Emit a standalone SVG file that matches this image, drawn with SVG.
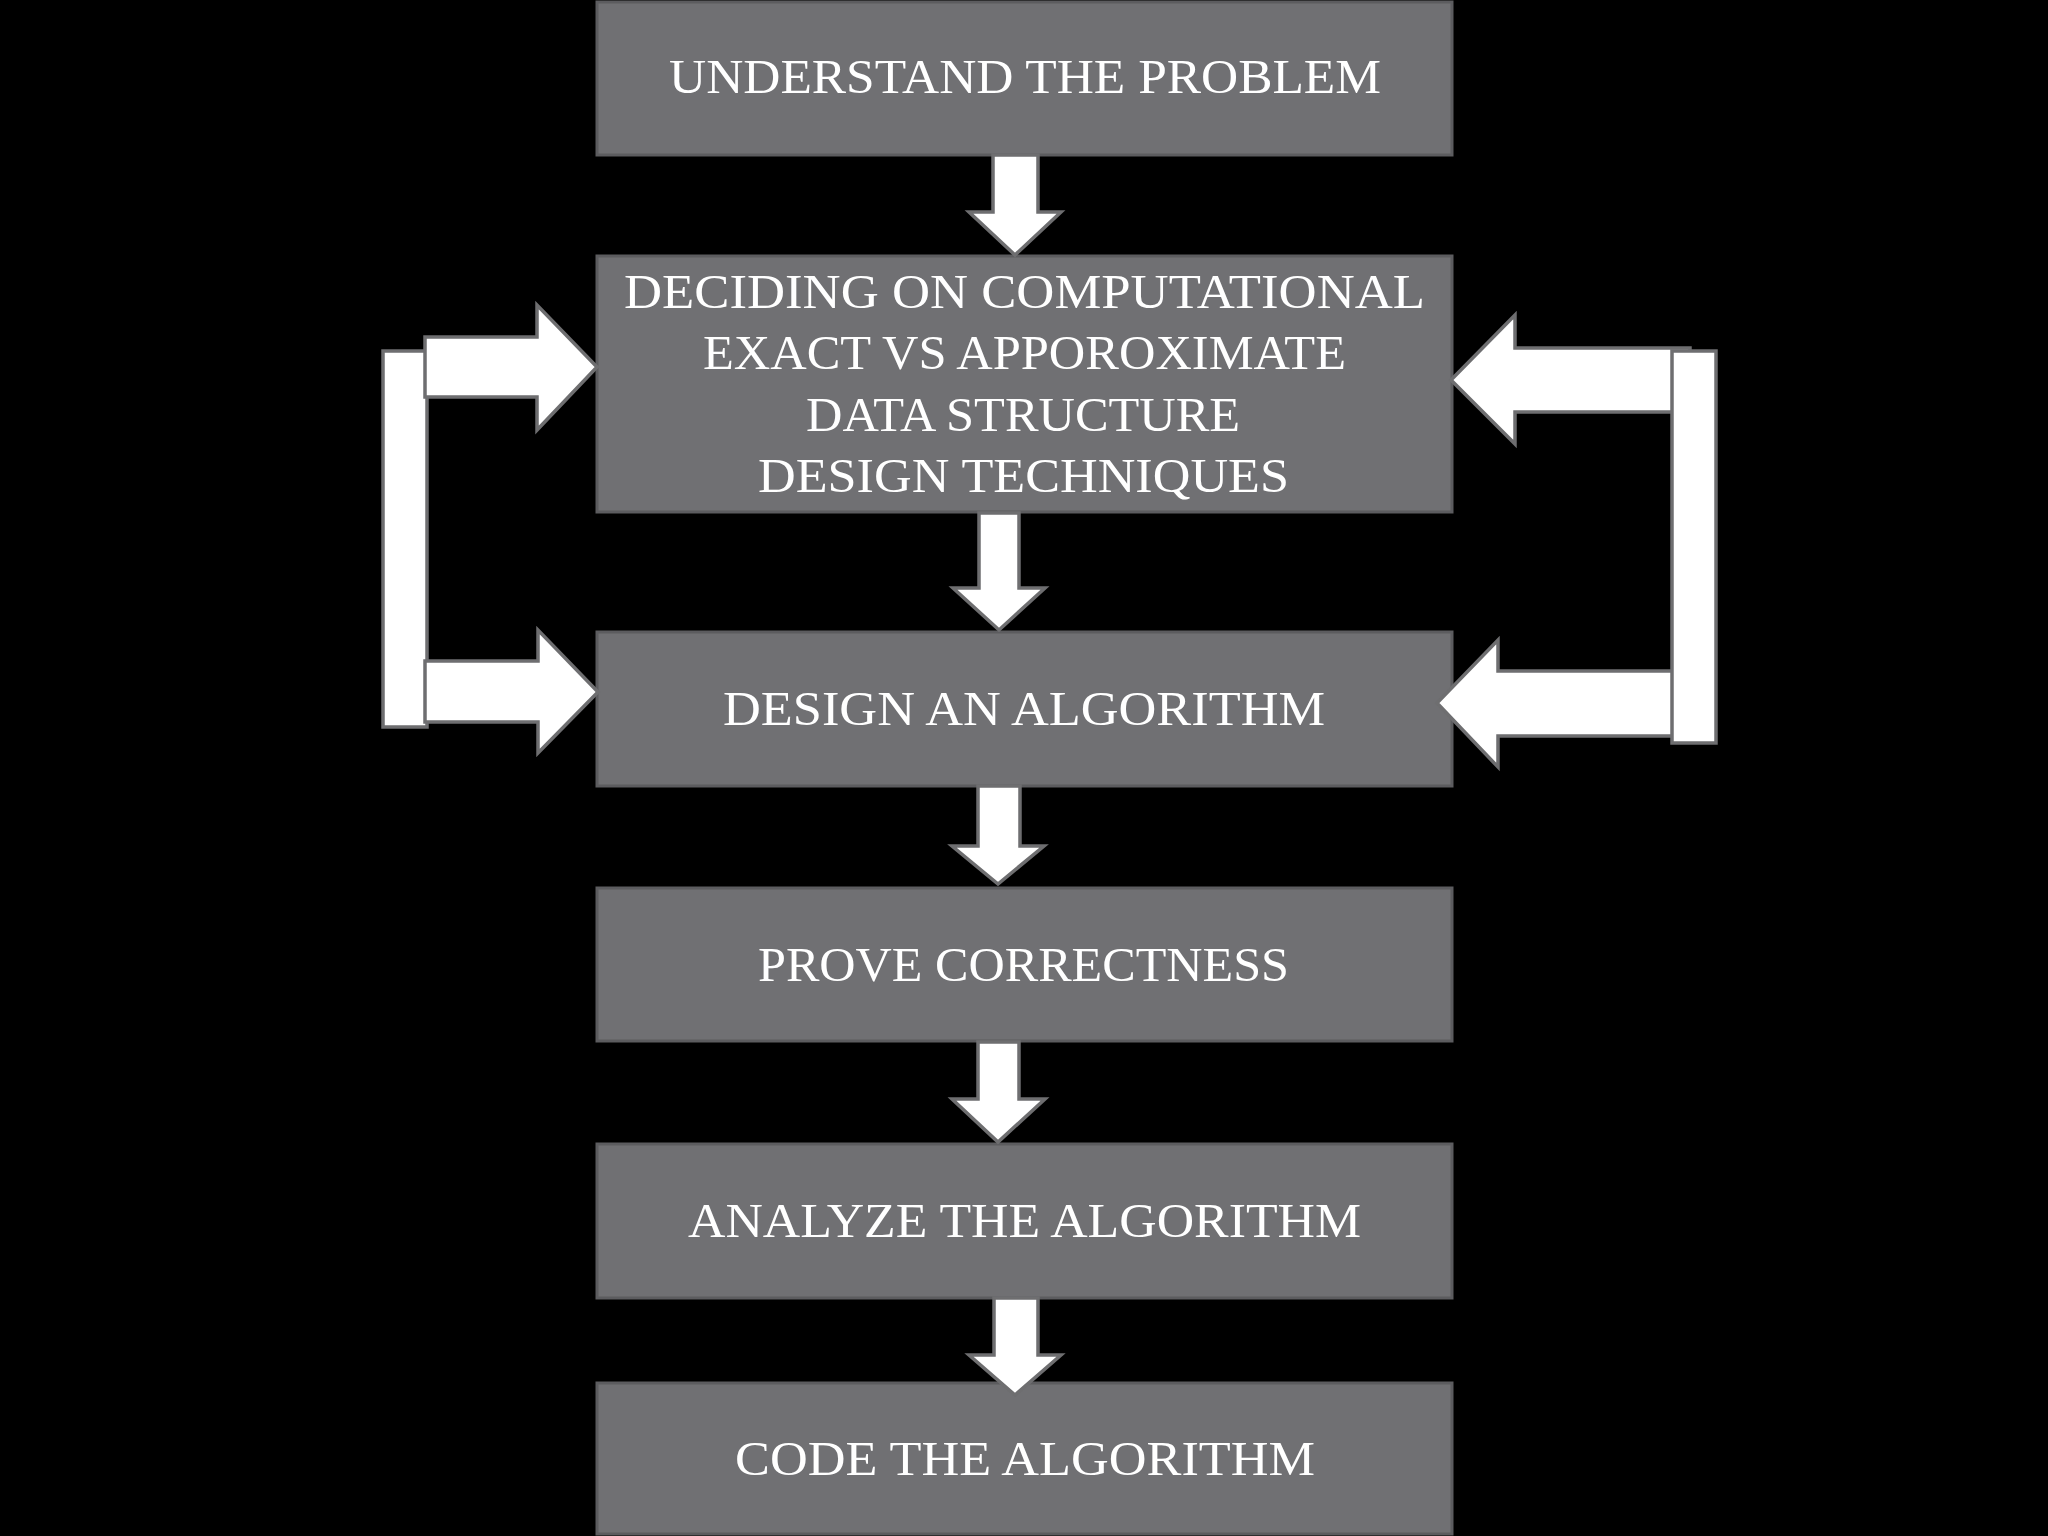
<svg xmlns="http://www.w3.org/2000/svg" width="2048" height="1536" viewBox="0 0 2048 1536">
<style>
.box{fill:#707073;stroke:#5c5c5f;stroke-width:3}
.arr{fill:#ffffff;stroke:#6e6e70;stroke-width:3.5;stroke-linejoin:miter}
.t{font-family:"Liberation Serif","Times New Roman",serif;font-size:48px;fill:#ffffff;text-anchor:middle}
</style>
<rect width="2048" height="1536" fill="#000000"/>
<g id="n1"><rect class="box" x="597" y="2" width="855" height="153"/><text class="t" x="1025" y="93" textLength="712" lengthAdjust="spacingAndGlyphs">UNDERSTAND THE PROBLEM</text></g>
<g id="n2"><rect class="box" x="597" y="256" width="855" height="256"/>
<text class="t" x="1024.5" y="308" textLength="801" lengthAdjust="spacingAndGlyphs">DECIDING ON COMPUTATIONAL</text>
<text class="t" x="1024.5" y="369" textLength="643" lengthAdjust="spacingAndGlyphs">EXACT VS APPOROXIMATE</text>
<text class="t" x="1023" y="431" textLength="434" lengthAdjust="spacingAndGlyphs">DATA STRUCTURE</text>
<text class="t" x="1023.5" y="492" textLength="531" lengthAdjust="spacingAndGlyphs">DESIGN TECHNIQUES</text></g>
<g id="n3"><rect class="box" x="597" y="632" width="855" height="154"/><text class="t" x="1024" y="725" textLength="602" lengthAdjust="spacingAndGlyphs">DESIGN AN ALGORITHM</text></g>
<g id="n4"><rect class="box" x="597" y="888" width="855" height="153"/><text class="t" x="1023.5" y="981" textLength="531" lengthAdjust="spacingAndGlyphs">PROVE CORRECTNESS</text></g>
<g id="n5"><rect class="box" x="597" y="1144" width="855" height="154"/><text class="t" x="1024.5" y="1237" textLength="673" lengthAdjust="spacingAndGlyphs">ANALYZE THE ALGORITHM</text></g>
<g id="n6"><rect class="box" x="597" y="1383" width="855" height="151"/><text class="t" x="1025" y="1475" textLength="580" lengthAdjust="spacingAndGlyphs">CODE THE ALGORITHM</text></g>
<g id="connectors">
<polygon class="arr" points="993,155 1038,155 1038,212 1061,212 1015,255 969,212 993,212"/>
<polygon class="arr" points="979,513 1019,513 1019,588 1045,588 999,630 953,588 979,588"/>
<polygon class="arr" points="978,786 1020,786 1020,846 1044,846 998,884 952,846 978,846"/>
<polygon class="arr" points="978,1042 1019,1042 1019,1099 1045,1099 998,1142 952,1099 978,1099"/>
<polygon class="arr" points="994,1298 1038,1298 1038,1355 1061,1355 1015,1395 969,1355 994,1355"/>
<rect class="arr" x="383" y="351" width="44" height="376"/>
<polygon class="arr" points="425,337 537,337 537,305 597,367 537,430 537,397 425,397"/>
<polygon class="arr" points="425,661 538,661 538,630 598,692 538,753 538,722 425,722"/>
<polygon class="arr" points="1690,348 1515,348 1515,315 1451,380 1515,444 1515,412 1690,412"/>
<polygon class="arr" points="1690,671 1498,671 1498,640 1437,703 1498,767 1498,736 1690,736"/>
<rect class="arr" x="1672" y="351" width="44" height="392"/>
</g>
</svg>
